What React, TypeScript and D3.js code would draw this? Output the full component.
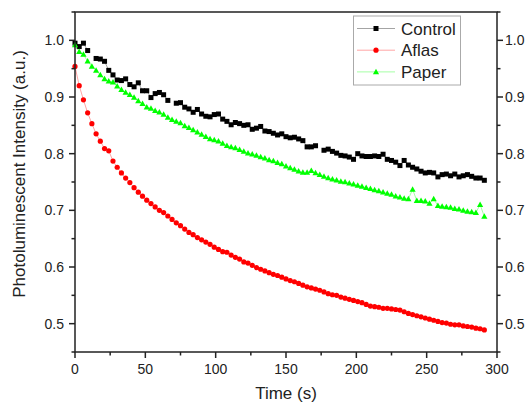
import React from "react";
import * as d3 from "d3";

const TIME: number[] = d3.range(0, 292, 3);

const CONTROL: (number | null)[] = [
  0.995, 0.989, 0.995, 0.982, null, 0.968, 0.967, 0.963, 0.947, 0.939,
  0.930, 0.929, 0.932, 0.922, 0.918, 0.925, 0.911, 0.911, 0.899, 0.906,
  0.908, 0.904, 0.894, null, 0.889, 0.890, 0.882, 0.879, 0.873, 0.878,
  0.870, 0.866, 0.865, 0.869, 0.870, 0.861, 0.857, 0.851, 0.855, 0.853,
  0.850, 0.851, 0.843, 0.845, 0.848, 0.840, 0.839, 0.836, 0.833, 0.835,
  0.830, 0.828, 0.829, 0.826, 0.823, 0.812, 0.812, 0.814, null, 0.806,
  0.808, 0.804, 0.801, 0.797, 0.796, 0.794, 0.790, 0.800, 0.796, 0.795,
  0.795, 0.796, 0.795, 0.799, 0.790, 0.788, 0.785, 0.779, 0.788, 0.780,
  0.776, 0.773, 0.769, 0.766, 0.767, 0.766, 0.759, 0.763, 0.764, 0.761,
  0.764, 0.759, 0.761, 0.763, 0.760, 0.757, 0.757, 0.753,
];

const AFLAS: number[] = [
  0.954, 0.920, 0.895, 0.872, 0.853, 0.835, 0.822, 0.809, 0.805, 0.787,
  0.776, 0.766, 0.757, 0.749, 0.740, 0.732, 0.725, 0.718, 0.712, 0.706,
  0.700, 0.696, 0.690, 0.684, 0.678, 0.673, 0.667, 0.661, 0.657, 0.652,
  0.648, 0.644, 0.640, 0.635, 0.631, 0.627, 0.626, 0.621, 0.617, 0.614,
  0.609, 0.607, 0.603, 0.599, 0.596, 0.593, 0.590, 0.587, 0.585, 0.582,
  0.579, 0.576, 0.574, 0.571, 0.568, 0.565, 0.563, 0.561, 0.559, 0.556,
  0.553, 0.551, 0.550, 0.547, 0.545, 0.543, 0.541, 0.539, 0.537, 0.534,
  0.531, 0.530, 0.529, 0.527, 0.527, 0.526, 0.525, 0.524, 0.521, 0.518,
  0.516, 0.514, 0.512, 0.510, 0.508, 0.506, 0.504, 0.502, 0.501, 0.499,
  0.498, 0.498, 0.496, 0.495, 0.494, 0.492, 0.491, 0.489,
];

const PAPER: number[] = [
  0.992, 0.980, 0.975, 0.963, 0.954, 0.947, 0.939, 0.932, 0.928, 0.926,
  0.919, 0.913, 0.908, 0.904, 0.899, 0.893, 0.888, 0.882, 0.880, 0.876,
  0.873, 0.869, 0.864, 0.860, 0.857, 0.854, 0.849, 0.846, 0.842, 0.838,
  0.834, 0.830, 0.826, 0.824, 0.822, 0.818, 0.814, 0.812, 0.810, 0.807,
  0.804, 0.801, 0.799, 0.797, 0.794, 0.792, 0.789, 0.787, 0.784, 0.782,
  0.778, 0.775, 0.772, 0.769, 0.767, 0.767, 0.770, 0.766, 0.763, 0.760,
  0.757, 0.755, 0.753, 0.751, 0.750, 0.748, 0.746, 0.744, 0.742, 0.740,
  0.738, 0.736, 0.734, 0.732, 0.730, 0.728, 0.725, 0.723, 0.721, 0.720,
  0.737, 0.717, 0.717, 0.716, 0.712, 0.720, 0.708, 0.707, 0.706, 0.705,
  0.703, 0.702, 0.700, 0.698, 0.697, 0.696, 0.710, 0.689,
];

const X_TICKS = [0, 50, 100, 150, 200, 250, 300];
const X_MINOR = [25, 75, 125, 175, 225, 275];
const Y_TICKS = [0.5, 0.6, 0.7, 0.8, 0.9, 1.0];
const Y_MINOR = [0.45, 0.55, 0.65, 0.75, 0.85, 0.95, 1.05];

const SERIES_NAMES = ["Control", "Aflas", "Paper"];
const SERIES_COLORS = ["#000000", "#ff0000", "#00ff00"];

const W = 529;
const H = 403;
const M = { left: 75, right: 497, top: 12, bottom: 352 };
const FONT = "'Liberation Sans', Arial, sans-serif";
const AXIS = "#222";

function Marker({ kind, x, y, color }: { kind: number; x: number; y: number; color: string }) {
  if (kind === 0) return <rect x={x - 2.5} y={y - 2.5} width={5} height={5} fill={color} />;
  if (kind === 1) return <circle cx={x} cy={y} r={2.6} fill={color} />;
  return <path d={`M${x},${y - 3.2}L${x + 3.1},${y + 2.3}L${x - 3.1},${y + 2.3}Z`} fill={color} />;
}

export default function App() {
  const x = d3.scaleLinear().domain([0, 300]).range([M.left, M.right]);
  const y = d3.scaleLinear().domain([0.45, 1.05]).range([M.bottom, M.top]);
  const all = [CONTROL, AFLAS, PAPER];

  const line = d3
    .line<[number, number | null]>()
    .defined((d) => d[1] != null)
    .x((d) => x(d[0]))
    .y((d) => y(d[1] as number));

  const fmt = d3.format(".1f");

  return (
    <svg width={W} height={H} style={{ position: "absolute", left: 0, top: 0, background: "#fff" }} fontFamily={FONT}>
      {all.map((vals, si) => {
        const pts = TIME.map((t, i) => [t, vals[i] ?? null] as [number, number | null]);
        return (
          <g key={si}>
            <path d={line(pts) || ""} fill="none" stroke={SERIES_COLORS[si]} strokeWidth={0.6} strokeOpacity={0.6} />
            {pts.filter((p) => p[1] != null).map((p, i) => (
              <Marker key={i} kind={si} x={x(p[0])} y={y(p[1] as number)} color={SERIES_COLORS[si]} />
            ))}
          </g>
        );
      })}

      {/* frame */}
      <rect x={M.left} y={M.top} width={M.right - M.left} height={M.bottom - M.top} fill="none" stroke={AXIS} strokeWidth={1.5} />

      {/* x axis */}
      {X_TICKS.map((t) => (
        <g key={"xt" + t}>
          <line x1={x(t)} x2={x(t)} y1={M.bottom} y2={M.bottom + 6} stroke={AXIS} strokeWidth={1.5} />
          <text x={x(t)} y={M.bottom + 22} fontSize={14} textAnchor="middle" fill="#222">{t}</text>
        </g>
      ))}
      {X_MINOR.map((t) => (
        <line key={"xm" + t} x1={x(t)} x2={x(t)} y1={M.bottom} y2={M.bottom + 3.5} stroke={AXIS} strokeWidth={1.5} />
      ))}

      {/* y axes */}
      {Y_TICKS.map((v) => (
        <g key={"yt" + v}>
          <line x1={M.left - 6} x2={M.left} y1={y(v)} y2={y(v)} stroke={AXIS} strokeWidth={1.5} />
          <line x1={M.right} x2={M.right + 6} y1={y(v)} y2={y(v)} stroke={AXIS} strokeWidth={1.5} />
          <text x={M.left - 11} y={y(v) + 5} fontSize={14} textAnchor="end" fill="#222">{fmt(v)}</text>
          <text x={M.right + 8} y={y(v) + 5} fontSize={14} textAnchor="start" fill="#222">{fmt(v)}</text>
        </g>
      ))}
      {Y_MINOR.map((v) => (
        <g key={"ym" + v}>
          <line x1={M.left - 3.5} x2={M.left} y1={y(v)} y2={y(v)} stroke={AXIS} strokeWidth={1.5} />
          <line x1={M.right} x2={M.right + 3.5} y1={y(v)} y2={y(v)} stroke={AXIS} strokeWidth={1.5} />
        </g>
      ))}

      {/* titles */}
      <text x={(M.left + M.right) / 2} y={399} fontSize={17} textAnchor="middle" fill="#222">Time (s)</text>
      <text transform={`translate(25,174) rotate(-90)`} fontSize={17} textAnchor="middle" fill="#222">
        Photoluminescent Intensity (a.u.)
      </text>

      {/* legend */}
      <g>
        <rect x={353.5} y={16} width={107} height={69} fill="#fff" stroke="#aaa" strokeWidth={1} />
        {SERIES_NAMES.map((name, i) => {
          const cy = 28.5 + i * 21.7;
          return (
            <g key={name}>
              <line x1={357} x2={395} y1={cy} y2={cy} stroke={SERIES_COLORS[i]} strokeWidth={0.6} strokeOpacity={0.6} />
              <Marker kind={i} x={376} y={cy} color={SERIES_COLORS[i]} />
              <text x={401} y={cy + 6} fontSize={17} fill="#222">{name}</text>
            </g>
          );
        })}
      </g>
    </svg>
  );
}
